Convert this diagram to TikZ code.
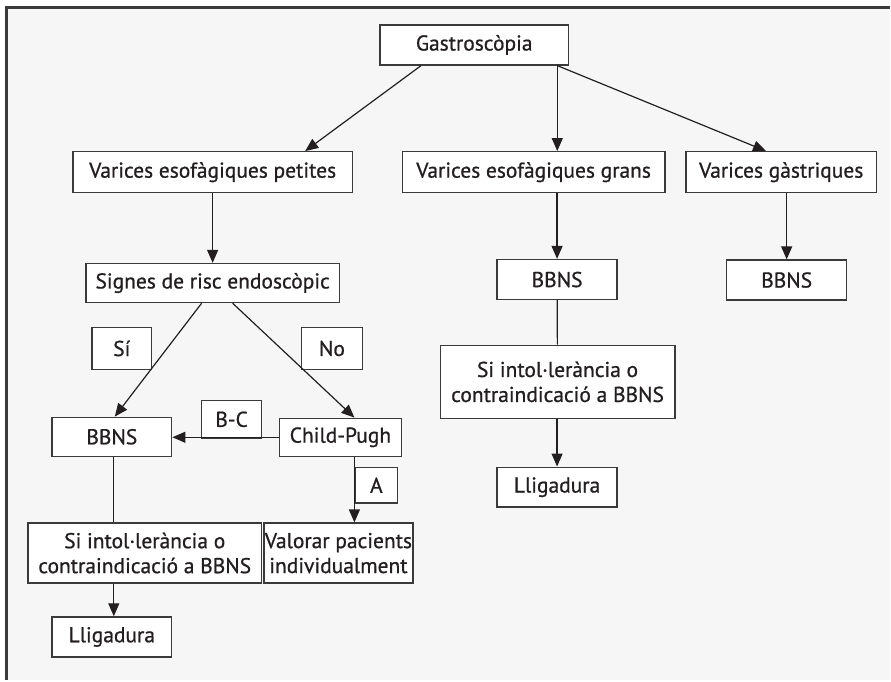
\documentclass[tikz,border=0pt]{standalone}
\usepackage{fontspec}
\setmainfont{PT Sans}
\newfontfamily\boxfont{PT Sans}[FakeBold=0.8]
\usetikzlibrary{arrows.meta, positioning, calc}
\definecolor{ink}{HTML}{231F20}
\definecolor{edge}{HTML}{3A3A3A}
\definecolor{paper}{HTML}{F6F6F6}

\begin{document}
\begin{tikzpicture}[
    x=1pt, y=-1pt,
    box/.style={rectangle, draw=edge, line width=1.4pt, fill=white, text=ink,
      inner xsep=1pt, inner ysep=2pt, minimum height=40pt, align=center,
      font=\boxfont\fontsize{21.5}{25}\selectfont},
    tag/.style={box, minimum width=60pt, minimum height=42pt},
    arrow/.style={draw=ink, line width=1.2pt, -{Triangle[length=13pt, width=11pt]}},
    link/.style={draw=ink, line width=1.2pt}
  ]
    \fill[white] (0,0) rectangle (891,681);
    \fill[paper] (7,8) rectangle (891,681);
    \draw[edge, line width=3pt] (6.5,681) -- (6.5,7.5) -- (891,7.5);

    \node[box, minimum width=189pt] (gastro) at (475,45) {Gastroscòpia};
    \node[box, minimum width=280pt, minimum height=41pt] (petites) at (213,172.5) {Varices esofàgiques petites};
    \node[box, minimum width=263pt, minimum height=41pt] (grans) at (534.5,172.5) {Varices esofàgiques grans};
    \node[box, minimum width=191pt, minimum height=41pt] (gastr) at (782.5,172.5) {Varices gàstriques};
    \node[box, minimum width=254pt, minimum height=39pt] (signes) at (213,283.5) {Signes de risc endoscòpic};
    \node[box, minimum width=120pt] (bbnsG) at (558,280) {BBNS};
    \node[box, minimum width=120pt] (bbnsV) at (788,280.5) {BBNS};
    \node[box, minimum width=235pt, minimum height=73pt] (intolG) at (558.5,382.5) {Si intol·lerància o\\contraindicació a BBNS};
    \node[box, minimum width=120pt] (lligG) at (558,488) {Lligadura};

    \node[tag] (si) at (122,349) {Sí};
    \node[tag, minimum width=61pt] (no) at (332.5,349) {No};
    \node[box, minimum width=120pt, minimum height=39pt] (bbnsL) at (112,437.5) {BBNS};
    \node[tag, minimum height=38pt] (bc) at (232,420) {B-C};
    \node[box, minimum width=122pt, minimum height=38pt] (child) at (341,438) {Child-Pugh};
    \node[tag, minimum width=42pt, minimum height=36pt] (a) at (377,486) {A};
    \node[box, minimum width=234pt, minimum height=60pt] (intolL) at (145,554) {Si intol·lerància o\\contraindicació a BBNS};
    \node[box, minimum width=138pt, minimum height=60pt] (valorar) at (339,554) {Valorar pacients\\individualment};
    \node[box, minimum width=120pt] (lligL) at (112,638) {Lligadura};

    \draw[arrow] ($(gastro.south west)+(42,0)$) -- ($(petites.north east)+(-48,0)$);
    \coordinate (g1) at ($(gastro.south east)+(-12,0)$);
    \draw[arrow] (g1) -- (g1 |- grans.north);
    \draw[arrow] (g1) -- ($(gastr.north west)+(81,0)$);

    \draw[arrow] (petites) -- (signes);
    \draw[arrow] ($(signes.south)+(-11,0)$) -- ($(bbnsL.north)+(3,0)$);
    \draw[arrow] ($(signes.south)+(20,0)$) -- ($(child.north)+(14,0)$);
    \draw[arrow] (child.west) -- (child.west -| bbnsL.east);
    \coordinate (c1) at ($(child.south)+(14,0)$);
    \draw[arrow] (c1) -- (c1 |- valorar.north);
    \draw[link] ($(bbnsL.south)+(2,0)$) coordinate (b1) -- (b1 |- intolL.north);
    \draw[arrow] (b1 |- intolL.south) -- (b1 |- lligL.north);

    \draw[arrow] (grans.south -| bbnsG) -- (bbnsG.north);
    \draw[link] (bbnsG) -- (intolG);
    \draw[arrow] (intolG.south -| lligG) -- (lligG.north);
    \draw[arrow] (gastr.south -| bbnsV) -- (bbnsV.north);
  \end{tikzpicture}
\end{document}
